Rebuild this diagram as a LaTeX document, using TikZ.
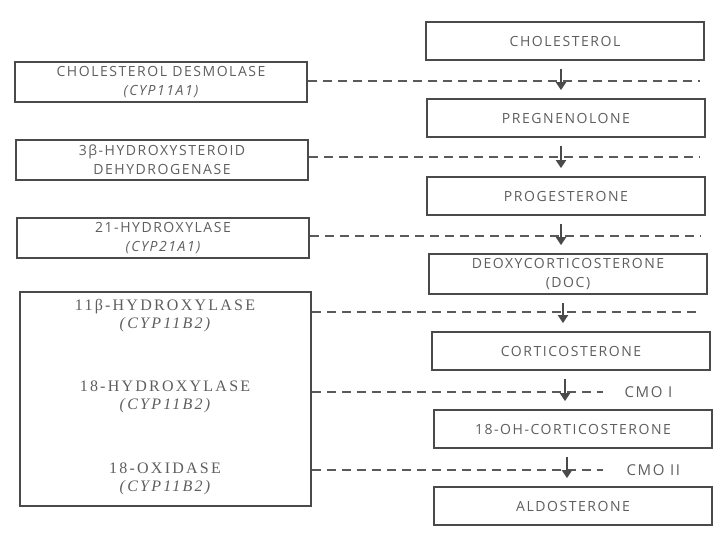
\documentclass[tikz,border=0pt]{standalone}
\usepackage{fontspec}
\setmainfont{Open Sans}
\newfontfamily\sansf[LetterSpace=11]{Open Sans}
\newfontfamily\seriff[LetterSpace=14]{Liberation Serif}
\usetikzlibrary{arrows.meta}
\definecolor{txt}{HTML}{5E5E5E}
\definecolor{frame}{HTML}{4A4A4A}
\definecolor{dash}{HTML}{5A5A5A}
\tikzset{
  box/.style={draw=frame, line width=1.8pt, minimum height=38pt, inner sep=0pt, align=center, text=txt, font=\sansf\fontsize{14}{19}\selectfont},
  rbox/.style={box, minimum width=278pt},
  lbox/.style={box, minimum width=292pt, minimum height=40pt},
  conn/.style={draw=dash, line width=1.1pt, dash pattern=on 9pt off 6pt},
  arr/.style={draw=frame, line width=2pt, -{Triangle[length=8pt,width=10pt]}},
  serif/.style={text=txt, align=center, font=\seriff\fontsize{16}{18}\selectfont},
  cmo/.style={text=txt, anchor=west, font=\sansf\fontsize{15}{18}\selectfont}
}
\begin{document}
\begin{tikzpicture}[x=1pt,y=-1pt]
\useasboundingbox (0,0) rectangle (720,540);
% right column
\node[rbox] (chol) at (565,41) {CHOLESTEROL};
\node[rbox] (preg) at (566,118) {PREGNENOLONE};
\node[rbox] (prog) at (566,196) {PROGESTERONE};
\node[rbox, minimum height=40pt] (doc) at (568,274) {DEOXYCORTICOSTERONE\\(DOC)};
\node[rbox] (cort) at (571,351) {CORTICOSTERONE};
\node[rbox] (oh) at (573,429) {18-OH-CORTICOSTERONE};
\node[rbox] (aldo) at (573,506) {ALDOSTERONE};
% left column
\node[lbox] (desm) at (161,82) {CHOLESTEROL DESMOLASE\\{\itshape (CYP11A1)}};
\node[lbox] (hsd) at (162,160) {3β-HYDROXYSTEROID\\DEHYDROGENASE};
\node[lbox] (h21) at (163,238) {21-HYDROXYLASE\\{\itshape (CYP21A1)}};
\node[draw=frame, line width=1.8pt, minimum width=291pt, minimum height=214pt, inner sep=0pt] (big) at (165.5,399) {};
\node[serif] (t11) at (165,316) {11β-HYDROXYLASE\\{\itshape (CYP11B2)}};
\node[serif] (t18h) at (165,397) {18-HYDROXYLASE\\{\itshape (CYP11B2)}};
\node[serif] (t18o) at (165,479) {18-OXIDASE\\{\itshape (CYP11B2)}};
% dashed connectors
\coordinate (e1) at (700,81);
\coordinate (e2) at (700,157);
\coordinate (e3) at (700,236);
\coordinate (e4) at (700,312);
\coordinate (e5) at (603,392);
\coordinate (e6) at (603,470);
\draw[conn] (desm.east |- e1) -- (e1);
\draw[conn] (hsd.east |- e2) -- (e2);
\draw[conn] (h21.east |- e3) -- (e3);
\draw[conn] (big.east |- e4) -- (e4);
\draw[conn] (big.east |- e5) -- (e5);
\draw[conn] (big.east |- e6) -- (e6);
\node[cmo] (cmo1) at (621,392) {CMO I};
\node[cmo] (cmo2) at (623,470) {CMO II};
% arrows
\draw[arr] ([xshift=-4pt,yshift=-8pt]chol.south) -- ([xshift=-5pt,yshift=8pt]preg.north);
\draw[arr] ([xshift=-5pt,yshift=-8pt]preg.south) -- ([xshift=-5pt,yshift=8pt]prog.north);
\draw[arr] ([xshift=-5pt,yshift=-8pt]prog.south) -- ([xshift=-7pt,yshift=8pt]doc.north);
\draw[arr] ([xshift=-5pt,yshift=-8pt]doc.south) -- ([xshift=-8pt,yshift=8pt]cort.north);
\draw[arr] ([xshift=-6pt,yshift=-8pt]cort.south) -- ([xshift=-8pt,yshift=8pt]oh.north);
\draw[arr] ([xshift=-6pt,yshift=-8pt]oh.south) -- ([xshift=-6pt,yshift=8pt]aldo.north);
\end{tikzpicture}
\end{document}
